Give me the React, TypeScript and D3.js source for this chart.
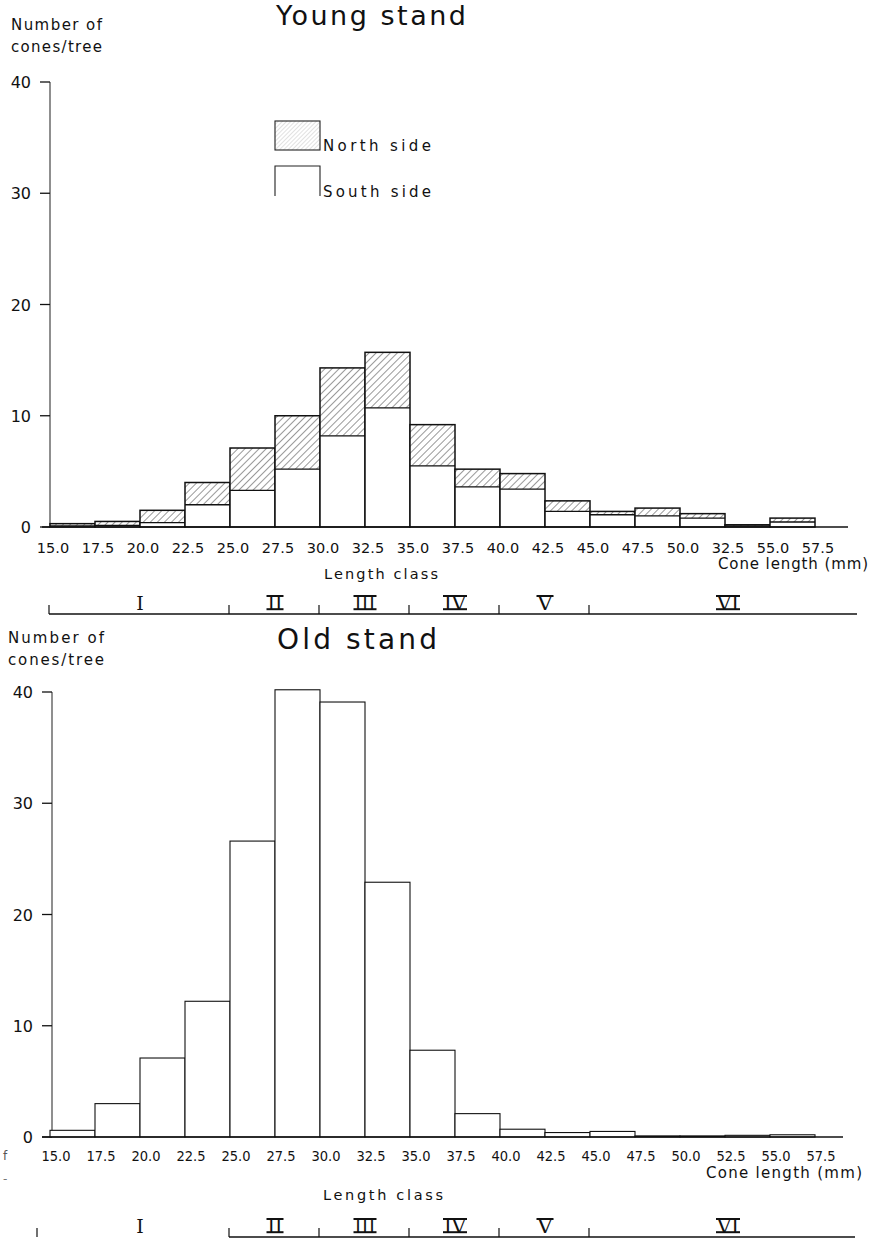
import React from 'react';
import * as d3 from 'd3';

// ---- data ----
const binStarts = [15.0, 17.5, 20.0, 22.5, 25.0, 27.5, 30.0, 32.5, 35.0, 37.5, 40.0, 42.5, 45.0, 47.5, 50.0, 52.5, 55.0];
const binWidth = 2.5;
const youngSouth = [0.1, 0.15, 0.4, 2.0, 3.3, 5.2, 8.2, 10.7, 5.5, 3.6, 3.4, 1.4, 1.1, 1.0, 0.8, 0.1, 0.45];
const youngNorth = [0.2, 0.35, 1.1, 2.0, 3.8, 4.8, 6.1, 5.0, 3.7, 1.6, 1.4, 0.95, 0.3, 0.7, 0.4, 0.1, 0.35];
const oldCounts = [0.6, 3.0, 7.1, 12.2, 26.6, 40.2, 39.1, 22.9, 7.8, 2.1, 0.7, 0.4, 0.5, 0.1, 0.1, 0.15, 0.2];
const yTicks = [0, 10, 20, 30, 40];
const tickValues = [15.0, 17.5, 20.0, 22.5, 25.0, 27.5, 30.0, 32.5, 35.0, 37.5, 40.0, 42.5, 45.0, 47.5, 50.0, 52.5, 55.0, 57.5];
const topTickLabels = ['15.0', '17.5', '20.0', '22.5', '25.0', '27.5', '30.0', '32.5', '35.0', '37.5', '40.0', '42.5', '45.0', '47.5', '50.0', '32.5', '55.0', '57.5'];
const bottomTickLabels = ['15.0', '17.5', '20.0', '22.5', '25.0', '27.5', '30.0', '32.5', '35.0', '37.5', '40.0', '42.5', '45.0', '47.5', '50.0', '52.5', '55.0', '57.5'];
const classNames = ['I', 'II', 'III', 'IV', 'V', 'VI'];
const classBounds = [15.0, 25.0, 30.0, 35.0, 40.0, 45.0, 59.4];

const FONT = '"DejaVu Sans", Verdana, sans-serif';
const CFONT = '"DejaVu Sans Condensed", "DejaVu Sans", sans-serif';

const x = d3.scaleLinear().domain([15, 57.5]).range([50, 815]);

// widths (px) used to draw the joined bars of the roman numerals
const numeralWidth: Record<string, number> = { I: 0, II: 15, III: 21, IV: 22, V: 15, VI: 22 };
const numeralTopBar: Record<string, boolean> = { I: false, II: true, III: true, IV: true, V: true, VI: true };
const numeralBottomBar: Record<string, boolean> = { I: false, II: true, III: true, IV: true, V: false, VI: true };

function YAxis({ y, axisX }: { y: d3.ScaleLinear<number, number>; axisX: number }) {
  return (
    <g>
      <line x1={axisX} x2={axisX} y1={y(40)} y2={y(0)} stroke="#333" strokeWidth={1.1} />
      {yTicks.map((t) => (
        <g key={t}>
          <line x1={axisX - 10} x2={axisX} y1={y(t)} y2={y(t)} stroke="#111" strokeWidth={1.3} />
          <text x={axisX - 19} y={y(t) + 6} textAnchor="end" fontSize={16} fontFamily={FONT} fill="#111">
            {t}
          </text>
        </g>
      ))}
    </g>
  );
}

function Numeral({ name, cx, baseline }: { name: string; cx: number; baseline: number }) {
  const w = numeralWidth[name];
  const capTop = baseline - 14;
  return (
    <g>
      {w > 0 ? (
        <text x={cx - w / 2} y={baseline} fontSize={19} fontFamily='"DejaVu Serif", serif' textLength={w} lengthAdjust="spacingAndGlyphs" fill="#111">
          {name}
        </text>
      ) : (
        <text x={cx} y={baseline} textAnchor="middle" fontSize={19} fontFamily='"DejaVu Serif", serif' fill="#111">
          {name}
        </text>
      )}
      {numeralTopBar[name] && <line x1={cx - w / 2 - 1} x2={cx + w / 2 + 1} y1={capTop} y2={capTop} stroke="#111" strokeWidth={2} />}
      {numeralBottomBar[name] && <line x1={cx - w / 2 - 1} x2={cx + w / 2 + 1} y1={baseline - 0.8} y2={baseline - 0.8} stroke="#111" strokeWidth={2} />}
    </g>
  );
}

function ClassBracket({ yLine, yText, showFirst, endX, firstTickX }: { yLine: number; yText: number; showFirst: boolean; endX: number; firstTickX: number }) {
  const startX = showFirst ? firstTickX : x(classBounds[1]) - 1;
  return (
    <g>
      <line x1={startX} x2={endX} y1={yLine} y2={yLine} stroke="#111" strokeWidth={1.4} />
      {classBounds.slice(0, 6).map((b, i) => {
        const tx = i === 0 ? firstTickX : x(b) - 1;
        return <line key={i} x1={tx} x2={tx} y1={yLine - 9} y2={yLine} stroke="#111" strokeWidth={1.2} />;
      })}
      {classNames.map((n, i) => {
        const cx = i < 5 ? (x(classBounds[i]) + x(classBounds[i + 1])) / 2 : 728;
        return <Numeral key={n} name={n} cx={cx} baseline={yText} />;
      })}
    </g>
  );
}

export default function App() {
  const yTop = d3.scaleLinear().domain([0, 40]).range([527, 82]);
  const yBot = d3.scaleLinear().domain([0, 40]).range([1137, 692]);

  return (
    <svg width={882} height={1242} style={{ position: 'absolute', left: 0, top: 0, background: '#fff' }}>
      <defs>
        <pattern id="hatch" width={5} height={5} patternUnits="userSpaceOnUse" patternTransform="rotate(45)">
          <rect width={5} height={5} fill="#fff" />
          <line x1={0} y1={0} x2={0} y2={5} stroke="#333" strokeWidth={1} />
        </pattern>
        <pattern id="hatchLight" width={3} height={3} patternUnits="userSpaceOnUse" patternTransform="rotate(45)">
          <rect width={3} height={3} fill="#fff" />
          <line x1={0} y1={0} x2={0} y2={3} stroke="#999" strokeWidth={0.6} />
        </pattern>
      </defs>
      <rect width={882} height={1242} fill="#fff" />

      {/* ===== Young stand ===== */}
      <text x={276} y={25} fontSize={27} fontFamily={FONT} textLength={190} lengthAdjust="spacing" fill="#111">Young stand</text>
      <text x={11} y={30} fontSize={15} fontFamily={FONT} textLength={91} lengthAdjust="spacing" fill="#111">Number of</text>
      <text x={11} y={52} fontSize={15} fontFamily={FONT} textLength={91} lengthAdjust="spacing" fill="#111">cones/tree</text>
      <YAxis y={yTop} axisX={50} />

      {binStarts.map((b, i) => {
        const x0 = x(b);
        const x1 = x(b + binWidth);
        const s = youngSouth[i];
        const t = s + youngNorth[i];
        return (
          <g key={b}>
            <rect x={x0} y={yTop(t)} width={x1 - x0} height={yTop(s) - yTop(t)} fill="url(#hatch)" />
            <rect x={x0} y={yTop(s)} width={x1 - x0} height={yTop(0) - yTop(s)} fill="#fff" />
            <rect x={x0} y={yTop(t)} width={x1 - x0} height={yTop(0) - yTop(t)} fill="none" stroke="#111" strokeWidth={1.5} />
            <line x1={x0} x2={x1} y1={yTop(s)} y2={yTop(s)} stroke="#111" strokeWidth={1.3} />
          </g>
        );
      })}
      <line x1={42} x2={848} y1={yTop(0)} y2={yTop(0)} stroke="#111" strokeWidth={1.5} />

      {tickValues.map((v, i) => (
        <text key={i} x={x(v) + 3} y={553} textAnchor="middle" fontSize={14.5} fontFamily={FONT} fill="#111">
          {topTickLabels[i]}
        </text>
      ))}
      <text x={718} y={569} fontSize={15} fontFamily={FONT} textLength={150} lengthAdjust="spacing" fill="#111">Cone length (mm)</text>
      <text x={324} y={579} fontSize={14.5} fontFamily={FONT} textLength={114} lengthAdjust="spacing" fill="#111">Length class</text>

      {/* legend */}
      <rect x={275} y={121} width={45} height={29} fill="url(#hatchLight)" stroke="#222" strokeWidth={1.1} />
      <text x={323} y={151} fontSize={15} fontFamily={FONT} textLength={108} lengthAdjust="spacing" fill="#111">North side</text>
      <path d="M275,196 L275,166 L320,166 L320,196" fill="none" stroke="#222" strokeWidth={1.1} />
      <text x={323} y={197} fontSize={15} fontFamily={FONT} textLength={108} lengthAdjust="spacing" fill="#111">South side</text>

      <ClassBracket yLine={614} yText={610} showFirst={true} endX={857} firstTickX={49} />

      {/* ===== Old stand ===== */}
      <text x={277} y={649} fontSize={28} fontFamily={FONT} textLength={160} lengthAdjust="spacing" fill="#111">Old stand</text>
      <text x={8} y={643} fontSize={15} fontFamily={FONT} textLength={96} lengthAdjust="spacing" fill="#111">Number of</text>
      <text x={8} y={665} fontSize={15} fontFamily={FONT} textLength={96} lengthAdjust="spacing" fill="#111">cones/tree</text>
      <YAxis y={yBot} axisX={52} />

      {binStarts.map((b, i) => {
        const x0 = x(b);
        const x1 = x(b + binWidth);
        const v = oldCounts[i];
        return (
          <rect key={b} x={x0} y={yBot(v)} width={x1 - x0} height={yBot(0) - yBot(v)} fill="#fff" stroke="#111" strokeWidth={1.1} />
        );
      })}
      <line x1={42} x2={843} y1={yBot(0)} y2={yBot(0)} stroke="#111" strokeWidth={1.4} />

      {tickValues.map((v, i) => (
        <text key={i} x={x(v) + 6} y={1161} textAnchor="middle" fontSize={14.5} fontFamily={CFONT} fill="#111">
          {bottomTickLabels[i]}
        </text>
      ))}
      <text x={706} y={1178} fontSize={15} fontFamily={FONT} textLength={156} lengthAdjust="spacing" fill="#111">Cone length (mm)</text>
      <text x={323} y={1200} fontSize={14.5} fontFamily={FONT} textLength={120} lengthAdjust="spacing" fill="#111">Length class</text>

      <ClassBracket yLine={1237} yText={1233} showFirst={false} endX={855} firstTickX={37} />

      <text x={3} y={1160} fontSize={12} fontFamily={FONT} fill="#555">f</text>
      <text x={3} y={1183} fontSize={12} fontFamily={FONT} fill="#777">-</text>
    </svg>
  );
}
